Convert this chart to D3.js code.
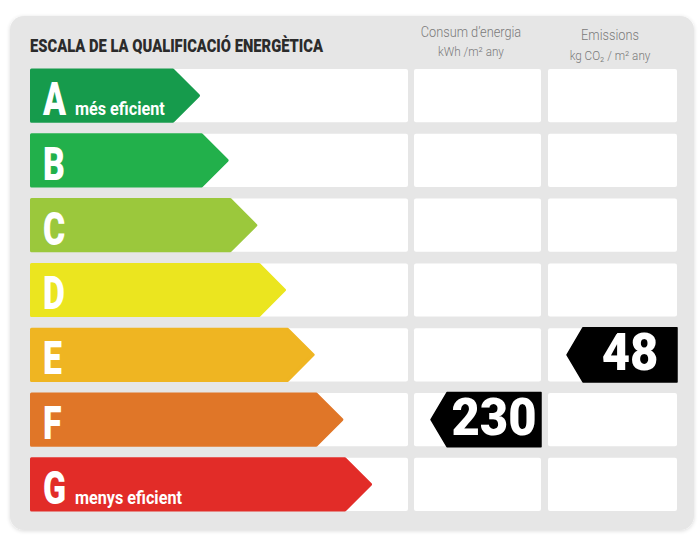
<!DOCTYPE html>
<html>
<head>
<meta charset="utf-8">
<script src="https://cdn.jsdelivr.net/npm/d3@7"></script>
<style>
  body { margin: 0; background: #fff; }
  text { font-family: Roboto, "Noto Sans", sans-serif; }
</style>
</head>
<body>
<svg id="chart"></svg>
<script>
// energy rating scale
const ratings = ['A', 'B', 'C', 'D', 'E', 'F', 'G'];
const ratingColors = ['#169b4c', '#22b04b', '#9bc83c', '#ebe51f', '#efb522', '#e07628', '#e22c28'];
const ratingNotes = ['més eficient', '', '', '', '', '', 'menys eficient'];

// building values
const consumption = 230;
const consumptionRating = 'F';
const emissions = 48;
const emissionsRating = 'E';

const title = 'ESCALA DE LA QUALIFICACIÓ ENERGÈTICA';

const width = 700, height = 539;

const svg = d3.select('#chart')
    .attr('width', width)
    .attr('height', height);

const defs = svg.append('defs');
const shadow = defs.append('filter').attr('id', 'shadow')
    .attr('x', -0.05).attr('y', -0.05).attr('width', 1.1).attr('height', 1.1);
shadow.append('feGaussianBlur').attr('in', 'SourceAlpha').attr('stdDeviation', 2);
shadow.append('feOffset').attr('dy', 1).attr('result', 'b');
shadow.append('feComponentTransfer').append('feFuncA').attr('type', 'linear').attr('slope', 0.15);
const merge = shadow.append('feMerge');
merge.append('feMergeNode');
merge.append('feMergeNode').attr('in', 'SourceGraphic');

// grey panel
svg.append('rect')
    .attr('x', 10).attr('y', 16)
    .attr('width', 684).attr('height', 514)
    .attr('rx', 14)
    .attr('fill', '#e6e6e6')
    .attr('filter', 'url(#shadow)');

const y = d3.scaleBand()
    .domain(ratings)
    .range([69, 511])
    .paddingInner(0.18);

const tip = d3.scaleLinear()
    .domain([0, ratings.length - 1])
    .range([200, 372]);

const color = d3.scaleOrdinal().domain(ratings).range(ratingColors);

const cols = [
    { key: 'scale', x0: 30, x1: 408 },
    { key: 'consum', x0: 414, x1: 541 },
    { key: 'emis', x0: 548, x1: 677 }
];

// white cells
const rows = svg.append('g').selectAll('g')
    .data(ratings)
    .join('g');

rows.selectAll('rect')
    .data(r => cols.map(c => ({ r, c })))
    .join('rect')
    .attr('x', d => d.c.x0)
    .attr('y', d => y(d.r))
    .attr('width', d => d.c.x1 - d.c.x0)
    .attr('height', y.bandwidth())
    .attr('rx', 2)
    .attr('fill', '#fff');

// coloured arrows
const h = y.bandwidth();
svg.append('g').selectAll('path')
    .data(ratings)
    .join('path')
    .attr('d', (r, i) => {
        const y0 = y(r) + 1, t = tip(i) - 1.5, hh = h - 2;
        return `M31.5,${y0} L${t - hh / 2},${y0} L${t},${y0 + hh / 2} L${t - hh / 2},${y0 + hh} L31.5,${y0 + hh} Z`;
    })
    .attr('fill', r => color(r))
    .attr('stroke', r => color(r))
    .attr('stroke-width', 3)
    .attr('stroke-linejoin', 'round');

// letters
svg.append('g').selectAll('g')
    .data(ratings)
    .join('g')
    .attr('transform', r => `translate(43,${y(r) + 46}) scale(0.72,1)`)
    .append('text')
    .attr('fill', '#fff')
    .attr('font-size', 47)
    .attr('font-weight', 900)
    .text(r => r);

svg.append('g').selectAll('g')
    .data(ratings.filter((r, i) => ratingNotes[i]))
    .join('g')
    .attr('transform', r => `translate(75,${y(r) + 46}) scale(0.9,1)`)
    .append('text')
    .attr('fill', '#fff')
    .attr('font-size', 18)
    .attr('font-weight', 700)
    .text(r => ratingNotes[ratings.indexOf(r)]);

// header
svg.append('g')
    .attr('transform', 'translate(30,52) scale(0.82,1)')
    .append('text')
    .attr('font-size', 18)
    .attr('font-weight', 900)
    .attr('fill', '#2b2b2b')
    .text(title);

const headers = [
    { cx: 471, lines: ['Consum d\u2019energia', 'kWh /m\u00b2  any'], y: [37, 56] },
    { cx: 610, lines: ['Emissions', 'kg CO\u2082  / m\u00b2  any'], y: [40, 60] }
];
headers.forEach(hd => {
    hd.lines.forEach((s, i) => {
        svg.append('g')
            .attr('transform', `translate(${hd.cx},${hd.y[i]}) scale(${i === 0 ? 0.85 : 0.9},1)`)
            .append('text')
            .attr('text-anchor', 'middle')
            .attr('font-size', i === 0 ? 15 : 13)
            .attr('font-weight', 300)
            .attr('fill', '#7a7a7a')
            .text(s);
    });
});

// value tags
const tags = [
    { value: consumption, rating: consumptionRating, col: cols[1] },
    { value: emissions, rating: emissionsRating, col: cols[2] }
];
const tagW = 110, tagPt = 16;
const tg = svg.append('g').selectAll('g')
    .data(tags)
    .join('g');

tg.append('path')
    .attr('d', d => {
        const x1 = d.col.x1, x0 = x1 - tagW, y0 = y(d.rating) - 0.5, hh = h + 1;
        return `M${x0},${y0 + hh / 2} L${x0 + tagPt},${y0} L${x1},${y0} L${x1},${y0 + hh} L${x0 + tagPt},${y0 + hh} Z`;
    })
    .attr('fill', '#000')
    .attr('stroke', '#000')
    .attr('stroke-width', 1.5)
    .attr('stroke-linejoin', 'round');

tg.append('g')
    .attr('transform', d => `translate(${d.col.x1 - (tagW - tagPt) / 2},${y(d.rating) + 42}) scale(0.96,1)`)
    .append('text')
    .attr('text-anchor', 'middle')
    .attr('font-size', 51)
    .attr('font-weight', 900)
    .attr('fill', '#fff')
    .text(d => d.value);
</script>
</body>
</html>
